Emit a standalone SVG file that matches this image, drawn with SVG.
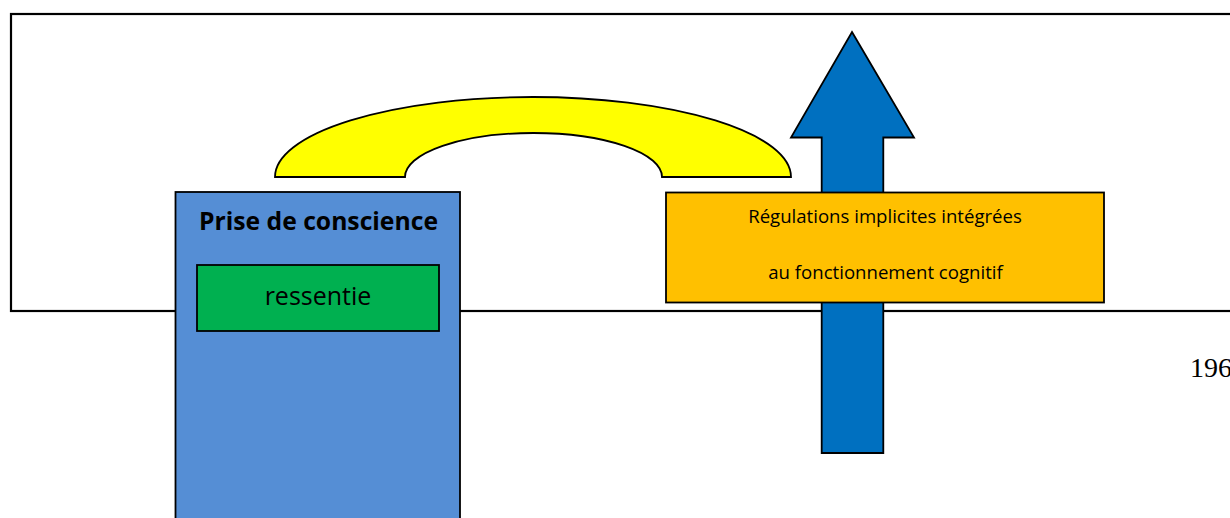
<svg xmlns="http://www.w3.org/2000/svg" width="1230" height="518" viewBox="0 0 1230 518">
<style>
.frame{fill:#fff;stroke:#000;stroke-width:2.2}
.box{stroke:#000;stroke-width:1.8}
.t{font-family:"Open Sans","Liberation Sans",sans-serif;fill:#000;text-anchor:middle}
</style>
<rect width="1230" height="518" fill="#fff"/>
<g id="frame">
<rect class="frame" x="11" y="14" width="1225" height="297"/>
</g>
<g id="arch">
<path d="M275,177 A258,80 0 0 1 791,177 L662,177 A128.5,44 0 0 0 405,177 Z" fill="#ffff00" stroke="#000" stroke-width="1.8"/>
</g>
<g id="arrow">
<path d="M852,32 L914,137.5 L883.3,137.5 L883.3,453 L821.7,453 L821.7,137.5 L791,137.5 Z" fill="#0070c0" stroke="#000" stroke-width="1.8" stroke-linejoin="miter"/>
</g>
<g id="node-prise">
<rect class="box" x="175.5" y="192" width="284.5" height="340" fill="#558ed5"/>
<text class="t" x="318.5" y="230" font-size="24.7" font-weight="bold">Prise de conscience</text>
</g>
<g id="node-ressentie">
<rect class="box" x="197" y="265" width="242" height="66" fill="#00b050" stroke-width="2.2"/>
<text class="t" x="318" y="305" font-size="25">ressentie</text>
</g>
<g id="node-regulations">
<rect class="box" x="666" y="192.5" width="438" height="110" fill="#ffc000" stroke-width="2"/>
<text class="t" x="885" y="223" font-size="18.6">Régulations implicites intégrées</text>
<text class="t" x="885.5" y="279" font-size="18.6">au fonctionnement cognitif</text>
</g>
<g id="connectors"></g>
<text x="1190" y="377" font-family="Liberation Serif,serif" font-size="28" fill="#000">196</text>
</svg>
